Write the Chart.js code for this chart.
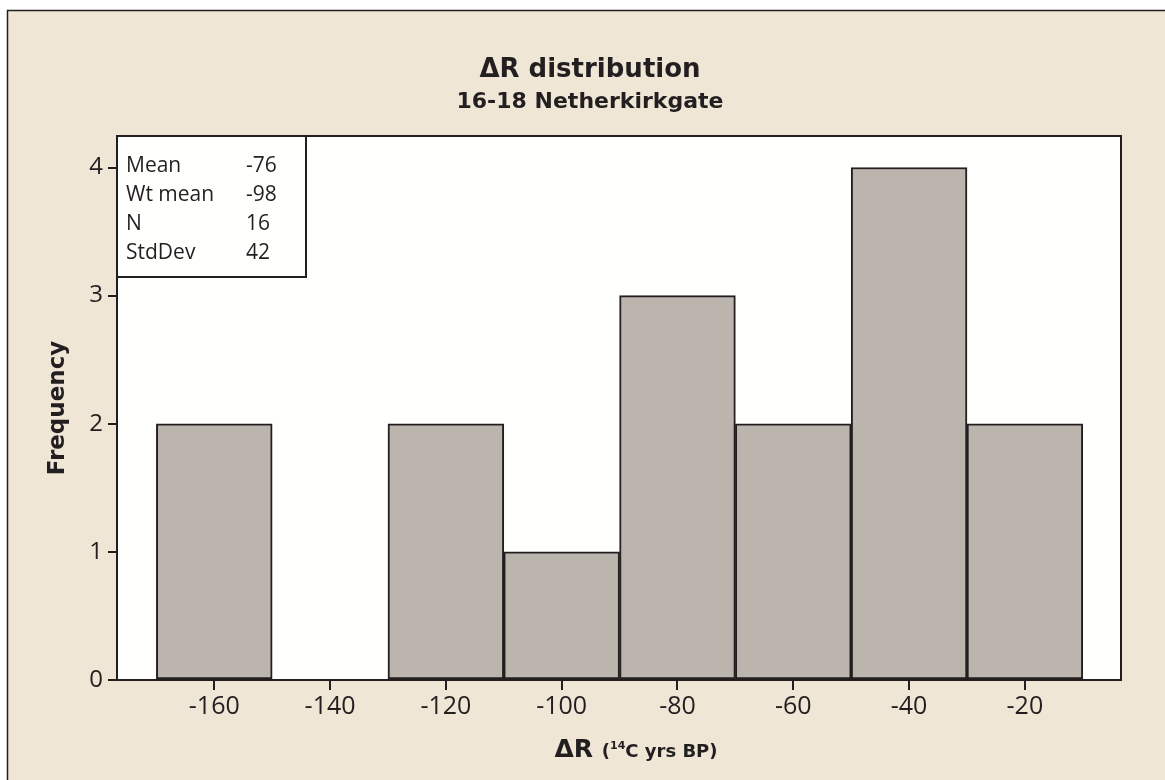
<!DOCTYPE html>
<html>
<head>
<meta charset="utf-8">
<script src="https://cdn.jsdelivr.net/npm/chart.js@4/dist/chart.umd.min.js"></script>
<style>
  html, body { margin: 0; padding: 0; background: #ffffff; }
  canvas { display: block; }
</style>
</head>
<body>
<canvas id="hist" width="1165" height="780"></canvas>
<script>
// Histogram of ΔR values, 16-18 Netherkirkgate (bin width 20)
const binCenters  = [-160, -140, -120, -100, -80, -60, -40, -20];
const frequencies = [2, 0, 2, 1, 3, 2, 4, 2];
const xTickValues = [-160, -140, -120, -100, -80, -60, -40, -20];
const yTickValues = [0, 1, 2, 3, 4];
const statLabels  = ['Mean', 'Wt mean', 'N', 'StdDev'];
const statValues  = ['-76', '-98', '16', '42'];

const INK = '#231f20';
const PAPER = '#efe6d6';
const BAR_FILL = '#bcb5ae';

// Frame, panel background, plot box, statistics box and titles
const decorations = {
  id: 'decorations',
  beforeDraw(chart) {
    const { ctx, chartArea: a, width, height } = chart;
    ctx.save();
    ctx.fillStyle = '#ffffff';
    ctx.fillRect(0, 0, width, height);
    ctx.fillStyle = PAPER;
    ctx.fillRect(8, 11, width - 8, height - 11);
    ctx.strokeStyle = INK;
    ctx.lineWidth = 1.5;
    ctx.beginPath();
    ctx.moveTo(7.5, height);
    ctx.lineTo(7.5, 10.5);
    ctx.lineTo(width, 10.5);
    ctx.stroke();
    ctx.fillStyle = '#fffffd';
    ctx.fillRect(a.left, a.top, a.right - a.left, a.bottom - a.top);
    ctx.restore();
  },
  afterDatasetsDraw(chart) {
    const { ctx, chartArea: a } = chart;
    ctx.save();
    // plot box
    ctx.strokeStyle = INK;
    ctx.lineWidth = 2;
    ctx.strokeRect(a.left, a.top, a.right - a.left, a.bottom - a.top);

    // statistics box
    const bx = a.left, by = a.top, bw = 189, bh = 141;
    ctx.fillStyle = '#fffffd';
    ctx.fillRect(bx, by, bw, bh);
    ctx.strokeRect(bx, by, bw, bh);
    ctx.fillStyle = INK;
    ctx.font = '21px "Open Sans"';
    ctx.textBaseline = 'alphabetic';
    ctx.textAlign = 'left';
    statLabels.forEach((lab, i) => {
      const y = by + 36 + i * 29;
      ctx.fillText(lab, bx + 9, y);
      ctx.fillText(statValues[i], bx + 129, y);
    });

    // titles
    ctx.textAlign = 'center';
    ctx.font = 'bold 26px "DejaVu Sans"';
    ctx.fillText('ΔR distribution', 590, 77);
    ctx.font = 'bold 22px "DejaVu Sans"';
    ctx.fillText('16-18 Netherkirkgate', 590, 108);

    // x-axis title with superscript
    const base = 757;
    const parts = [
      { t: 'ΔR ', f: 'bold 25px "DejaVu Sans"', dy: 0 },
      { t: '(', f: 'bold 18px "DejaVu Sans"', dy: 0 },
      { t: '14', f: 'bold 11px "DejaVu Sans"', dy: -8 },
      { t: 'C yrs BP)', f: 'bold 18px "DejaVu Sans"', dy: 0 }
    ];
    let total = 0;
    parts.forEach(p => { ctx.font = p.f; p.w = ctx.measureText(p.t).width; total += p.w; });
    let x = 636 - total / 2;
    ctx.textAlign = 'left';
    parts.forEach(p => { ctx.font = p.f; ctx.fillText(p.t, x, base + p.dy); x += p.w; });

    // y-axis title
    ctx.save();
    ctx.translate(64, (a.top + a.bottom) / 2);
    ctx.rotate(-Math.PI / 2);
    ctx.textAlign = 'center';
    ctx.font = 'bold 23px "DejaVu Sans"';
    ctx.fillText('Frequency', 0, 0);
    ctx.restore();

    ctx.restore();
  }
};

new Chart(document.getElementById('hist'), {
  type: 'bar',
  data: {
    datasets: [{
      data: binCenters.map((c, i) => ({ x: c, y: frequencies[i] })),
      backgroundColor: BAR_FILL,
      borderColor: INK,
      borderWidth: 2,
      borderSkipped: false,
      barPercentage: 1,
      categoryPercentage: 1
    }]
  },
  options: {
    responsive: false,
    animation: false,
    devicePixelRatio: 1,
    layout: { padding: { top: 136, right: 44, bottom: 0, left: 0 } },
    plugins: { legend: { display: false }, tooltip: { enabled: false }, title: { display: false } },
    scales: {
      x: {
        type: 'linear',
        min: -176.8,
        max: -3.4,
        offset: false,
        afterFit(scale) { scale.height = 100; },
        afterBuildTicks(scale) { scale.ticks = xTickValues.map(v => ({ value: v })); },
        grid: { offset: false, drawOnChartArea: false, drawTicks: true, tickLength: 10, color: INK, lineWidth: 2 },
        border: { display: false },
        ticks: { autoSkip: false, maxRotation: 0, padding: 2, color: INK, font: { family: 'Open Sans', size: 25 } }
      },
      y: {
        type: 'linear',
        min: 0,
        max: 4.246,
        afterFit(scale) { scale.width = 117; },
        afterBuildTicks(scale) { scale.ticks = yTickValues.map(v => ({ value: v })); },
        grid: { drawOnChartArea: false, drawTicks: true, tickLength: 9, color: INK, lineWidth: 2 },
        border: { display: false },
        ticks: { padding: 5, color: INK, font: { family: 'Open Sans', size: 24 } }
      }
    }
  },
  plugins: [decorations]
});
</script>
</body>
</html>
